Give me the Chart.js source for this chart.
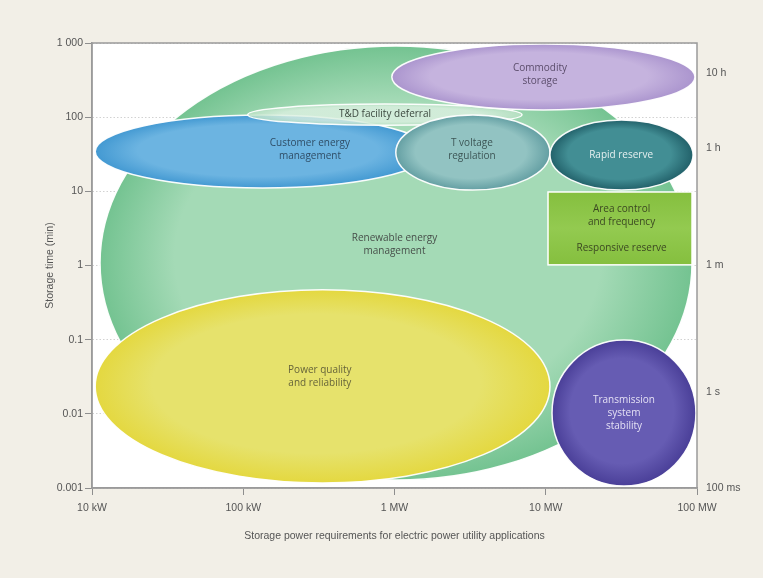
<!DOCTYPE html>
<html>
<head>
<meta charset="utf-8">
<script src="https://cdn.jsdelivr.net/npm/chart.js@4"></script>
<style>
  html, body { margin: 0; padding: 0; background: #f2efe7; }
  #wrap { width: 763px; height: 578px; }
</style>
</head>
<body>
<div id="wrap"><canvas id="chart"></canvas></div>
<script>
// axis ticks
const xTicks = [10, 100, 1000, 10000, 100000];
const xTickLabels = ['10 kW', '100 kW', '1 MW', '10 MW', '100 MW'];
const yTicks = [0.001, 0.01, 0.1, 1, 10, 100, 1000];
const yTickLabels = ['0.001', '0.01', '0.1', '1', '10', '100', '1 000'];
// right side duration labels (placed as in the original figure)
const durTicks = [0.001, 0.0197, 1, 38.4, 394];
const durLabels = ['100 ms', '1 s', '1 m', '1 h', '10 h'];

// applications: power range (kW) and storage time range (min)
const apps = ['Renewable energy management', 'Power quality and reliability', 'Customer energy management',
  'T&D facility deferral', 'T voltage regulation', 'Commodity storage', 'Rapid reserve',
  'Area control and frequency / Responsive reserve', 'Transmission system stability'];
const powerLow  = [11.3, 10.5, 10.5, 107, 1020, 960, 10660, 10350, 11000];
const powerHigh = [92700, 10660, 1720, 6970, 10660, 97000, 94200, 92700, 98400];
const timeLow   = [0.00128, 0.00117, 11.1, 78, 10.4, 125, 10.4, 1.02, 0.00106];
const timeHigh  = [910, 0.47, 107, 150, 107, 968, 91.6, 9.8, 0.099];
const shapeKind = ['ellipse', 'ellipse', 'ellipse', 'ellipse', 'ellipse', 'ellipse', 'ellipse', 'rect', 'ellipse'];
const labelPower = [1000, 321, 276, 865, 3250, 9160, 31500, 31700, 32900];
const labelTime  = [1.9, 0.032, 36, 110, 36, 370, 31, 3.16, 0.0103];
const labelLines = [
  ['Renewable energy', 'management'],
  ['Power quality', 'and reliability'],
  ['Customer energy', 'management'],
  ['T&D facility deferral'],
  ['T voltage', 'regulation'],
  ['Commodity', 'storage'],
  ['Rapid reserve'],
  ['Area control', 'and frequency', '', 'Responsive reserve'],
  ['Transmission', 'system', 'stability']
];

// styles
const fillInner = ['#a4dab6', '#e6e26c', '#6cb4e1', 'rgba(220,240,225,0.8)', '#92c3c2', '#c5b3de', '#428e94', '#93ca50', '#665cb3'];
const fillOuter = ['#74c391', '#e4d840', '#4399d2', 'rgba(185,225,196,0.85)', '#649fa3', '#ab95ce', '#22616a', '#85bf3e', '#4a3f98'];
const textColor = ['#474f4a', '#66643a', '#2f4d66', '#3d4a40', '#3d5656', '#5b4d6b', '#e6f0f0', '#3b4722', '#e4e0f4'];

const labelFont = '10px "Open Sans", "Liberation Sans", sans-serif';
const axisFont = { family: '"Liberation Sans Narrow", "Liberation Sans", sans-serif', size: 10.5 };

const plotFrame = {
  id: 'plotFrame',
  beforeDraw(chart) {
    const { ctx, chartArea: a } = chart;
    ctx.save();
    ctx.fillStyle = '#ffffff';
    ctx.fillRect(a.left, a.top, a.width, a.height);
    ctx.restore();
  },
  afterDraw(chart) {
    const { ctx, chartArea: a } = chart;
    ctx.save();
    ctx.strokeStyle = '#9a9a9a';
    ctx.lineWidth = 1.5;
    ctx.strokeRect(a.left, a.top, a.width, a.height);
    ctx.restore();
  }
};

const appShapes = {
  id: 'appShapes',
  beforeDatasetsDraw(chart) {
    const { ctx, chartArea: a, scales: { x, y } } = chart;
    ctx.save();
    ctx.beginPath();
    ctx.rect(a.left, a.top, a.width, a.height);
    ctx.clip();
    apps.forEach((name, i) => {
      const x0 = x.getPixelForValue(powerLow[i]), x1 = x.getPixelForValue(powerHigh[i]);
      const y0 = y.getPixelForValue(timeHigh[i]), y1 = y.getPixelForValue(timeLow[i]);
      const cx = (x0 + x1) / 2, cy = (y0 + y1) / 2, rx = (x1 - x0) / 2, ry = (y1 - y0) / 2;
      if (shapeKind[i] === 'rect') {
        const g = ctx.createLinearGradient(x0, y0, x0, y1);
        g.addColorStop(0, fillOuter[i]);
        g.addColorStop(0.5, fillInner[i]);
        g.addColorStop(1, fillOuter[i]);
        ctx.fillStyle = g;
        ctx.fillRect(x0, y0, x1 - x0, y1 - y0);
        ctx.strokeStyle = '#ffffff';
        ctx.lineWidth = 1.5;
        ctx.strokeRect(x0, y0, x1 - x0, y1 - y0);
        return;
      }
      ctx.save();
      ctx.translate(cx, cy);
      ctx.scale(rx, ry);
      ctx.beginPath();
      ctx.arc(0, 0, 1, 0, Math.PI * 2);
      const g = ctx.createRadialGradient(-0.1, -0.1, 0, 0, 0, 1);
      g.addColorStop(0, fillInner[i]);
      g.addColorStop(0.72, fillInner[i]);
      g.addColorStop(1, fillOuter[i]);
      ctx.fillStyle = g;
      ctx.fill();
      ctx.restore();
      ctx.beginPath();
      ctx.ellipse(cx, cy, rx, ry, 0, 0, Math.PI * 2);
      ctx.strokeStyle = 'rgba(255,255,255,0.95)';
      ctx.lineWidth = 1.5;
      ctx.stroke();
    });
    ctx.restore();
  },
  afterDatasetsDraw(chart) {
    const { ctx, scales: { x, y } } = chart;
    ctx.save();
    ctx.font = labelFont;
    ctx.textAlign = 'center';
    ctx.textBaseline = 'middle';
    apps.forEach((name, i) => {
      const lines = labelLines[i];
      const px = x.getPixelForValue(labelPower[i]);
      const py = y.getPixelForValue(labelTime[i]);
      const lh = 13;
      ctx.fillStyle = textColor[i];
      lines.forEach((t, k) => {
        ctx.fillText(t, px, py + (k - (lines.length - 1) / 2) * lh);
      });
    });
    ctx.restore();
  }
};

new Chart(document.getElementById('chart'), {
  type: 'scatter',
  data: { datasets: [] },
  options: {
    responsive: true,
    maintainAspectRatio: false,
    animation: false,
    layout: { padding: { top: 43, right: 0, bottom: 0, left: 0 } },
    plugins: { legend: { display: false }, tooltip: { enabled: false } },
    scales: {
      x: {
        type: 'logarithmic',
        min: 10, max: 100000,
        afterBuildTicks: (axis) => { axis.ticks = xTicks.map(v => ({ value: v })); },
        afterFit: (axis) => { axis.height = 90; },
        ticks: {
          color: '#555', font: axisFont, padding: 7, autoSkip: false, maxRotation: 0,
          callback: (v, i) => xTickLabels[i]
        },
        grid: { drawOnChartArea: false, color: '#8e8e8e', tickLength: 7, tickBorderDash: [] },
        border: { display: true, color: '#9a9a9a', width: 1.5 },
        title: {
          display: true, text: 'Storage power requirements for electric power utility applications',
          color: '#555', font: axisFont, padding: { top: 0, bottom: 36 }
        }
      },
      y: {
        type: 'logarithmic',
        position: 'left',
        min: 0.001, max: 1000,
        afterBuildTicks: (axis) => { axis.ticks = yTicks.map(v => ({ value: v })); },
        afterFit: (axis) => { axis.width = 92; },
        ticks: {
          color: '#555', font: axisFont, padding: 2, autoSkip: false,
          callback: (v, i) => yTickLabels[i]
        },
        grid: { color: '#d2d2d2', tickColor: '#8e8e8e', tickLength: 7, tickBorderDash: [] },
        border: { display: true, color: '#9a9a9a', width: 1.5, dash: [1.5, 2] },
        title: {
          display: true, text: 'Storage time (min)',
          color: '#555', font: axisFont, padding: { top: 44, bottom: 0 }
        }
      },
      y2: {
        type: 'logarithmic',
        position: 'right',
        min: 0.001, max: 1000,
        afterBuildTicks: (axis) => { axis.ticks = durTicks.map(v => ({ value: v })); },
        afterFit: (axis) => { axis.width = 66; },
        ticks: {
          color: '#555', font: axisFont, padding: 9, autoSkip: false,
          callback: (v, i) => durLabels[i]
        },
        grid: { display: false, drawTicks: false },
        border: { display: false }
      }
    }
  },
  plugins: [plotFrame, appShapes]
});
</script>
</body>
</html>
